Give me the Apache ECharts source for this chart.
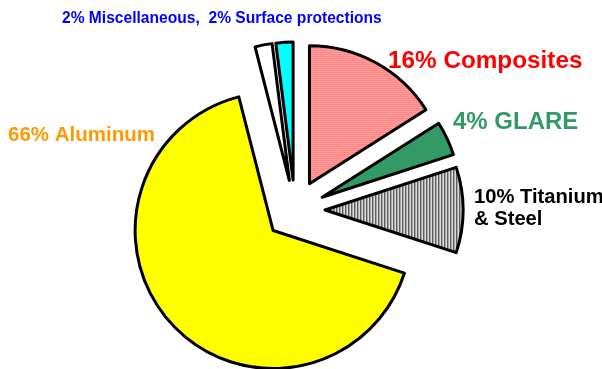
<!DOCTYPE html>
<html>
<head>
<meta charset="utf-8">
<script src="https://cdn.jsdelivr.net/npm/echarts@6/dist/echarts.min.js"></script>
<style>
  html, body { margin: 0; padding: 0; background: #fff; }
  #chart { width: 602px; height: 369px; }
</style>
</head>
<body>
<div id="chart"></div>
<script>
const categories = ['Composites', 'GLARE', 'Titanium & Steel', 'Aluminum', 'Miscellaneous', 'Surface protections']
const shares = [16, 4, 10, 66, 2, 2]

const fills = ['stripesRed', '#339966', 'stripesGray', '#FFFF00', '#FFFFFF', '#00FFFF']
const labelColors = ['#FF0000', '#339966', '#000000', '#FF9900', '#0000FF']
const labelSizes = [24.3, 24, 20.2, 20.5, 15.6]
const labelPos = [[388, 61], [453, 122], [474, 208], [8, 135], [62, 19]]

const makePattern = (w, h, draw) => {
  const c = document.createElement('canvas')
  c.width = w
  c.height = h
  draw(c.getContext('2d'))
  return { image: c, repeat: 'repeat' }
}

const stripesRed = makePattern(2, 2, (ctx) => {
  ctx.fillStyle = '#FF7F7F'
  ctx.fillRect(0, 0, 2, 1)
  ctx.fillStyle = '#FFA3A3'
  ctx.fillRect(0, 1, 2, 1)
})

const stripesGray = makePattern(3, 2, (ctx) => {
  ctx.fillStyle = '#5E5E5E'
  ctx.fillRect(0, 0, 1, 2)
  ctx.fillStyle = '#A6A6A6'
  ctx.fillRect(1, 0, 1, 2)
  ctx.fillStyle = '#DCDCDC'
  ctx.fillRect(2, 0, 1, 2)
})

const getFill = (f) => {
  if (f === 'stripesRed') return stripesRed
  if (f === 'stripesGray') return stripesGray
  return f
}

// last label carries both small slices
const labelText = (i) => {
  if (i === 4) {
    return `${shares[4]}% ${categories[4]},  ${shares[5]}% ${categories[5]}`
  }
  return `${shares[i]}% ${categories[i].replace(' & ', '\n& ')}`
}

const myChart = echarts.init(document.getElementById('chart'))

const option = {
  animation: false,
  backgroundColor: '#fff',
  graphic: labelPos.map((p, i) => {
    return {
      type: 'text',
      x: p[0],
      y: p[1],
      silent: true,
      style: {
        text: labelText(i),
        fill: labelColors[i],
        fontFamily: '"Liberation Sans", Arial, sans-serif',
        fontWeight: 'bold',
        fontSize: labelSizes[i],
        lineHeight: 22,
        align: 'left',
        verticalAlign: 'middle'
      }
    }
  }),
  series: [
    {
      type: 'pie',
      center: [295, 210],
      radius: 138,
      startAngle: 90,
      clockwise: true,
      selectedMode: 'multiple',
      selectedOffset: 30,
      label: { show: false },
      labelLine: { show: false },
      emphasis: { disabled: true },
      itemStyle: {
        borderColor: '#000',
        borderWidth: 3
      },
      data: categories.map((name, i) => {
        return {
          name: name,
          value: shares[i],
          selected: true,
          itemStyle: { color: getFill(fills[i]) },
          select: { itemStyle: { color: getFill(fills[i]), borderColor: '#000', borderWidth: 3 } }
        }
      })
    }
  ]
}

myChart.setOption(option)
</script>
</body>
</html>
